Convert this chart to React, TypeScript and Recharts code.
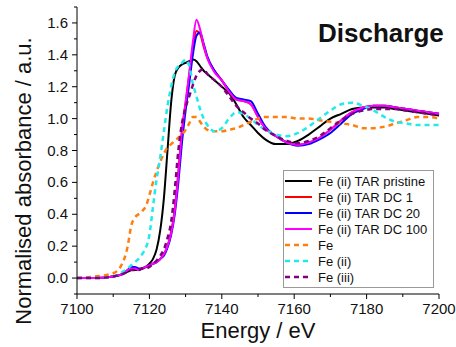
import React from 'react';
import { LineChart, Line, XAxis, YAxis, Label, Legend } from 'recharts';

// energy grid (eV), denser across the edge
const energy = [
  7100, 7105, 7110, 7112, 7114, 7115, 7116, 7117, 7118, 7119, 7120, 7121, 7122, 7123, 7124, 7125, 7126,
  7127, 7128, 7129, 7130, 7131, 7132, 7133, 7134, 7135, 7136, 7138, 7140, 7142, 7144, 7146, 7148, 7150,
  7152, 7155, 7158, 7161, 7164, 7167, 7170, 7173, 7176, 7179, 7182, 7185, 7188, 7191, 7194, 7197, 7200,
];

const pristine = [
  0, 0, 0.01, 0.02, 0.04, 0.05, 0.05, 0.05, 0.06, 0.07, 0.09, 0.12, 0.18, 0.3, 0.5, 0.8, 1.1,
  1.27, 1.32, 1.34, 1.35, 1.36, 1.37, 1.36, 1.33, 1.3, 1.28, 1.24, 1.2, 1.16, 1.09, 1.01, 0.96, 0.91,
  0.87, 0.84, 0.84, 0.86, 0.9, 0.95, 1.0, 1.03, 1.06, 1.07, 1.07, 1.07, 1.06, 1.05, 1.04, 1.03, 1.02,
];

const dc1 = [
  0, 0, 0.01, 0.02, 0.05, 0.06, 0.06, 0.05, 0.06, 0.07, 0.08, 0.09, 0.1, 0.12, 0.15, 0.2, 0.29,
  0.43, 0.67, 0.93, 1.1, 1.28, 1.45, 1.55, 1.53, 1.45, 1.38, 1.3, 1.24, 1.17, 1.12, 1.11, 1.09, 1.01,
  0.94, 0.89, 0.85, 0.835, 0.85, 0.88, 0.93, 0.99, 1.04, 1.07, 1.08, 1.08, 1.07, 1.06, 1.05, 1.04, 1.03,
];

const dc20 = [
  0, 0, 0.01, 0.02, 0.05, 0.07, 0.07, 0.06, 0.06, 0.07, 0.08, 0.09, 0.1, 0.12, 0.14, 0.19, 0.27,
  0.4, 0.6, 0.85, 1.05, 1.22, 1.4, 1.52, 1.54, 1.47, 1.39, 1.3, 1.24, 1.18, 1.13, 1.12, 1.11, 1.03,
  0.95, 0.89, 0.85, 0.83, 0.84, 0.87, 0.91, 0.97, 1.03, 1.06, 1.08, 1.08, 1.07, 1.06, 1.05, 1.04, 1.03,
];

const dc100 = [
  0, 0, 0.01, 0.02, 0.05, 0.06, 0.06, 0.05, 0.06, 0.07, 0.08, 0.09, 0.1, 0.12, 0.15, 0.2, 0.28,
  0.42, 0.65, 0.92, 1.1, 1.28, 1.48, 1.62, 1.56, 1.46, 1.38, 1.29, 1.24, 1.17, 1.12, 1.11, 1.09, 1.01,
  0.94, 0.89, 0.85, 0.835, 0.85, 0.88, 0.93, 0.99, 1.04, 1.07, 1.08, 1.08, 1.07, 1.06, 1.05, 1.04, 1.03,
];

const feMetal = [
  0, 0.01, 0.03, 0.07, 0.2, 0.33, 0.38, 0.4, 0.42, 0.45, 0.52, 0.6, 0.67, 0.73, 0.78, 0.82, 0.84,
  0.86, 0.88, 0.9, 0.93, 0.97, 1.01, 1.01, 0.98, 0.95, 0.93, 0.92, 0.92, 0.93, 0.94, 0.96, 0.98, 1.0,
  1.01, 1.01, 1.01, 1.0, 1.0, 0.99, 0.98, 0.97, 0.96, 0.94, 0.94, 0.95, 0.97, 0.99, 1.01, 1.01, 1.0,
];

const fe2 = [
  0, 0, 0.01, 0.03, 0.06, 0.08, 0.1, 0.12, 0.15, 0.19, 0.27, 0.45, 0.62, 0.76, 0.92, 1.08, 1.2,
  1.29, 1.33, 1.35, 1.37, 1.33, 1.22, 1.14, 1.06, 1.0, 0.96, 0.92, 0.94, 1.0, 1.04, 1.03, 1.0, 0.96,
  0.93, 0.9, 0.89, 0.91, 0.95, 1.0, 1.05, 1.09, 1.1, 1.08, 1.05, 1.01, 0.98, 0.97, 0.96, 0.96, 0.96,
];

const fe3 = [
  0, 0, 0.01, 0.02, 0.04, 0.05, 0.05, 0.05, 0.06, 0.06, 0.07, 0.09, 0.11, 0.14, 0.18, 0.25, 0.35,
  0.55, 0.8, 0.97, 1.07, 1.14, 1.21, 1.27, 1.3, 1.31, 1.28, 1.24, 1.2, 1.14, 1.08, 1.04, 1.0, 0.97,
  0.93, 0.89, 0.86, 0.845, 0.86, 0.89, 0.94, 0.99, 1.03, 1.05, 1.06, 1.06, 1.06, 1.05, 1.04, 1.03, 1.02,
];

const xTicks = [7100, 7110, 7120, 7130, 7140, 7150, 7160, 7170, 7180, 7190, 7200];
const yTicks = [-0.1, 0, 0.1, 0.2, 0.3, 0.4, 0.5, 0.6, 0.7, 0.8, 0.9, 1.0, 1.1, 1.2, 1.3, 1.4, 1.5, 1.6, 1.7];

const series = [
  { key: 'pristine', name: 'Fe (ii) TAR pristine', color: '#000000', dash: undefined },
  { key: 'dc1', name: 'Fe (ii) TAR DC 1', color: '#ff0000', dash: undefined },
  { key: 'dc20', name: 'Fe (ii) TAR DC 20', color: '#0000ff', dash: undefined },
  { key: 'dc100', name: 'Fe (ii) TAR DC 100', color: '#ff00ff', dash: undefined },
  { key: 'feMetal', name: 'Fe', color: '#ff7f0e', dash: '5 4' },
  { key: 'fe2', name: 'Fe (ii)', color: '#22eaea', dash: '5 4' },
  { key: 'fe3', name: 'Fe (iii)', color: '#800080', dash: '5 4' },
];

const rows = energy.map((e, i) => ({
  e,
  pristine: pristine[i],
  dc1: dc1[i],
  dc20: dc20[i],
  dc100: dc100[i],
  feMetal: feMetal[i],
  fe2: fe2[i],
  fe3: fe3[i],
}));

const FONT = '"Liberation Sans", Arial, sans-serif';

const XTick = (props: any) => {
  const { x, y, payload } = props;
  const v = payload.value;
  const major = v % 20 === 0;
  return (
    <g>
      <line x1={x} y1={y} x2={x} y2={y + (major ? 5 : 3)} stroke="#000" />
      {major && (
        <text x={x} y={y + 20} textAnchor="middle" fontSize={15} fill="#111" fontFamily={FONT}>
          {v}
        </text>
      )}
    </g>
  );
};

const YTick = (props: any) => {
  const { x, y, payload } = props;
  const v = payload.value;
  const major = Math.round(v * 10) % 2 === 0;
  return (
    <g>
      <line x1={x} y1={y} x2={x - (major ? 5 : 3)} y2={y} stroke="#000" />
      {major && (
        <text x={x - 9} y={y + 5} textAnchor="end" fontSize={15} fill="#111" fontFamily={FONT}>
          {v.toFixed(1)}
        </text>
      )}
    </g>
  );
};

const renderLegend = () => (
  <div
    style={{
      border: '1px solid #999',
      background: '#fff',
      padding: '2px 1px',
      width: 151,
      boxSizing: 'border-box',
      fontFamily: FONT,
    }}
  >
    {series.map((s) => (
      <div key={s.key} style={{ display: 'flex', alignItems: 'center', height: 16 }}>
        <svg width={27} height={6}>
          <line
            x1={0}
            y1={3}
            x2={27}
            y2={3}
            stroke={s.color}
            strokeWidth={s.dash ? 2.5 : 2}
            strokeDasharray={s.dash}
          />
        </svg>
        <span style={{ marginLeft: 6, fontSize: 13, color: '#111', whiteSpace: 'nowrap' }}>{s.name}</span>
      </div>
    ))}
  </div>
);

export default function App() {
  return (
    <div
      style={{
        position: 'absolute',
        left: 0,
        top: 0,
        width: 456,
        height: 347,
        background: '#fff',
        fontFamily: FONT,
      }}
    >
      <LineChart width={456} height={347} data={rows} margin={{ top: 7, right: 17, left: 0, bottom: 0 }}>
        <XAxis
          dataKey="e"
          type="number"
          domain={[7100, 7200]}
          ticks={xTicks}
          interval={0}
          tick={<XTick />}
          tickLine={false}
          tickSize={0}
          tickMargin={0}
          axisLine={{ stroke: '#000' }}
          height={53}
        >
          <Label
            content={() => (
              <text x={258} y={338} textAnchor="middle" fontSize={22} fill="#111" fontFamily={FONT}>
                Energy / eV
              </text>
            )}
          />
        </XAxis>
        <YAxis
          type="number"
          domain={[-0.1, 1.7]}
          ticks={yTicks}
          interval={0}
          tick={<YTick />}
          tickLine={false}
          tickSize={0}
          tickMargin={0}
          axisLine={{ stroke: '#000' }}
          width={77}
        >
          <Label
            content={() => (
              <text
                x={31}
                y={181}
                transform="rotate(-90 31 181)"
                textAnchor="middle"
                fontSize={22}
                fill="#111"
                fontFamily={FONT}
              >
                Normalised absorbance / a.u.
              </text>
            )}
          />
        </YAxis>
        {series.map((s) => (
          <Line
            key={s.key}
            type="monotone"
            dataKey={s.key}
            name={s.name}
            stroke={s.color}
            strokeWidth={s.dash ? 2.5 : 2}
            strokeDasharray={s.dash}
            dot={false}
            activeDot={false}
            isAnimationActive={false}
          />
        ))}
        <Legend
          layout="horizontal"
          verticalAlign="middle"
          align="center"
          content={renderLegend}
          wrapperStyle={{ position: 'absolute', left: 283, top: 170, width: 151 }}
        />
      </LineChart>
      <div
        style={{
          position: 'absolute',
          left: 318,
          top: 20,
          fontSize: 26,
          lineHeight: '26px',
          fontWeight: 'bold',
          color: '#111',
        }}
      >
        Discharge
      </div>
    </div>
  );
}
